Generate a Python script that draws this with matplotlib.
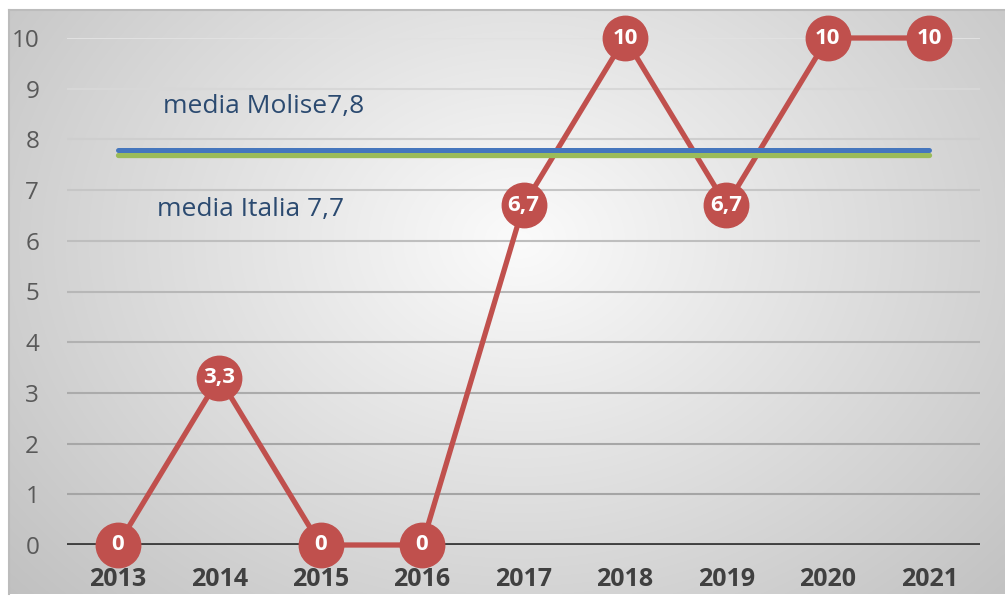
import numpy as np
import matplotlib
matplotlib.use("Agg")
import matplotlib.pyplot as plt

plt.rcParams['font.family'] = ['Open Sans', 'DejaVu Sans']

# data
anni = ['2013', '2014', '2015', '2016', '2017', '2018', '2019', '2020', '2021']
valori = [0, 3.3, 0, 0, 6.7, 10, 6.7, 10, 10]
etichette = ['0', '3,3', '0', '0', '6,7', '10', '6,7', '10', '10']
media_molise = 7.8
media_italia = 7.7
testo_molise = 'media Molise7,8'
testo_italia = 'media Italia 7,7'

W, H = 1005, 597
fig = plt.figure(figsize=(W / 100, H / 100), dpi=100, facecolor='white')

# radial grey background panel
bg = fig.add_axes([9 / W, 3 / H, (W - 9) / W, (594 - 10) / H], zorder=0)
yy, xx = np.mgrid[0:584, 0:996]
d = np.sqrt(((xx - 510) / 640.0) ** 2 + ((yy - 230) / 500.0) ** 2)
g = (251 - 55 * np.clip(d, 0, 1.2)) / 255.0
bg.imshow(np.dstack([g, g, g]), aspect='auto', extent=[0, 1, 0, 1], origin='upper')
bg.set_xlim(0, 1)
bg.set_ylim(0, 1)
bg.set_xticks([])
bg.set_yticks([])
for s in ['right', 'bottom']:
    bg.spines[s].set_visible(False)
for s in ['top', 'left']:
    bg.spines[s].set_color('#bcbcbc')
    bg.spines[s].set_linewidth(1.5)

ax = fig.add_axes([67 / W, (H - 545) / H, 913 / W, 507 / H], zorder=1)
ax.patch.set_alpha(0)
x = np.arange(len(anni))
ax.set_xlim(-0.5, len(anni) - 0.5)
ax.set_ylim(0, 10)
for s in ax.spines.values():
    s.set_visible(False)

# gridlines get darker towards the bottom
for v in range(1, 11):
    t = (v - 1) / 9.0
    c = 165 + 60 * t ** 1.5
    ax.axhline(v, color=(c / 255, c / 255, c / 255), lw=1.5, zorder=1)
ax.axhline(0, color='#404040', lw=2.8, zorder=2)

ax.plot(x, valori, color='#c0504d', lw=3.8, zorder=3, clip_on=False)
ax.plot([x[0], x[-1]], [media_italia] * 2, color='#9bbb59', lw=3.8, zorder=4,
        solid_capstyle='round')
ax.plot([x[0], x[-1]], [media_molise] * 2, color='#4576bd', lw=3.6, zorder=4,
        solid_capstyle='round')
ax.plot(x, valori, 'o', ms=32, color='#c0504d', mec='#c0504d', zorder=5,
        clip_on=False)
for xi, v, lab in zip(x, valori, etichette):
    ax.text(xi, v, lab, color='white', fontsize=16, fontweight='bold',
            ha='center', va='center', zorder=6)

ax.text(0.45, 8.65, testo_molise, color='#2b4a70', fontsize=19,
        ha='left', va='center', zorder=6)
ax.text(0.39, 6.62, testo_italia, color='#2b4a70', fontsize=19,
        ha='left', va='center', zorder=6)

ax.set_yticks(range(0, 11))
ax.set_xticks(x)
ax.set_xticklabels(anni, fontweight='bold', color='#404040', fontsize=18)
ax.tick_params(axis='y', length=0, pad=20, labelsize=17.5, labelcolor='#595959')
ax.tick_params(axis='x', length=0, pad=16)

fig.savefig('out.png', dpi=100, facecolor='white')
